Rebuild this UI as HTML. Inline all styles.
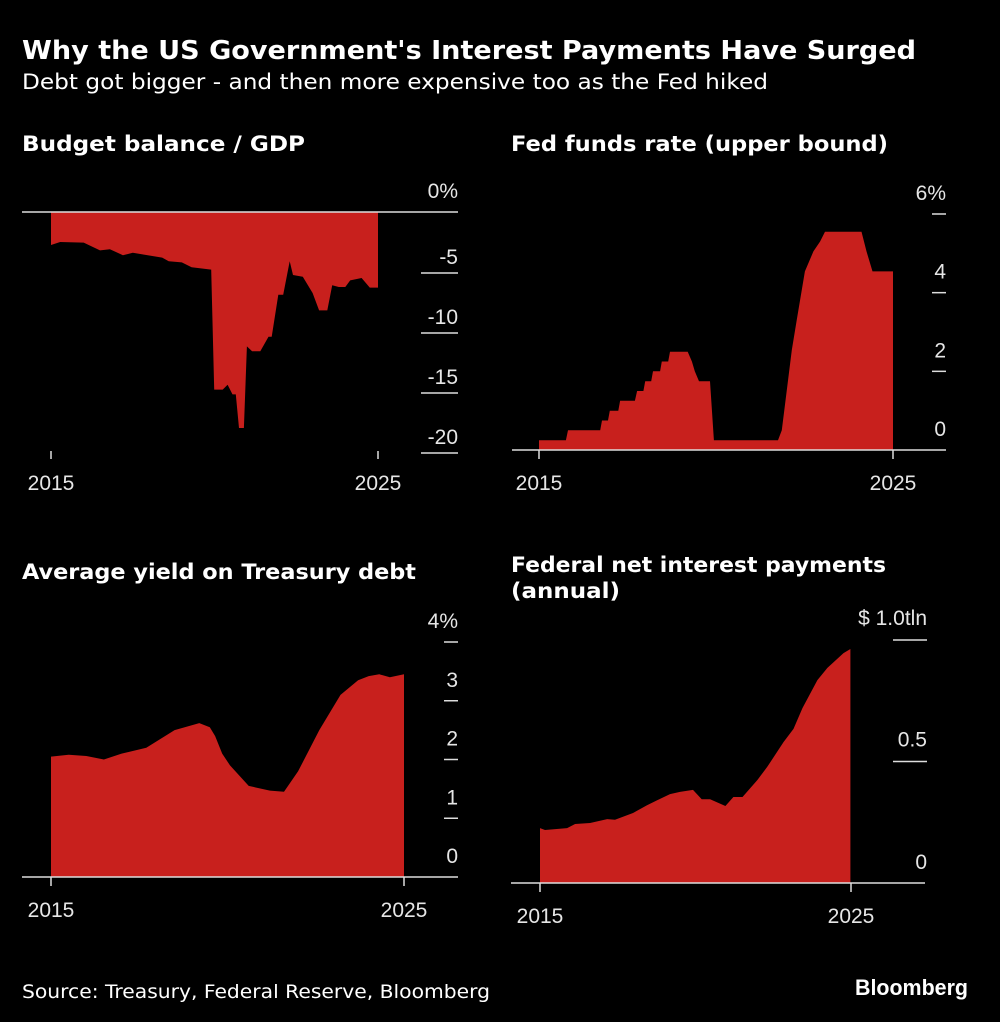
<!DOCTYPE html>
<html><head><meta charset="utf-8"><style>
html,body{margin:0;padding:0;background:#000;}
svg{display:block;}
.t{fill:#fff;font-family:"DejaVu Sans","Liberation Sans",sans-serif;}
.tk{fill:#e6e6e6;font-family:"Liberation Sans",sans-serif;font-size:21px;}
</style></head><body>
<svg id="c" width="1000" height="1022" viewBox="0 0 1000 1022">
<text class="t" x="22" y="59" font-size="26" font-weight="bold" textLength="894" lengthAdjust="spacingAndGlyphs">Why the US Government's Interest Payments Have Surged</text>
<text class="t" x="22" y="89" font-size="21" textLength="746" lengthAdjust="spacingAndGlyphs">Debt got bigger - and then more expensive too as the Fed hiked</text>
<text class="t" x="22" y="151" font-size="21" font-weight="bold" textLength="283" lengthAdjust="spacingAndGlyphs">Budget balance / GDP</text>
<text class="t" x="511" y="151" font-size="21" font-weight="bold" textLength="377" lengthAdjust="spacingAndGlyphs">Fed funds rate (upper bound)</text>
<text class="t" x="22" y="579" font-size="21" font-weight="bold" textLength="394" lengthAdjust="spacingAndGlyphs">Average yield on Treasury debt</text>
<text class="t" x="511" y="572" font-size="21" font-weight="bold" textLength="375" lengthAdjust="spacingAndGlyphs">Federal net interest payments</text>
<text class="t" x="511" y="598" font-size="21" font-weight="bold" textLength="109" lengthAdjust="spacingAndGlyphs">(annual)</text>
<text class="t" x="22" y="998" font-size="19" textLength="468" lengthAdjust="spacingAndGlyphs" fill="#ddd">Source: Treasury, Federal Reserve, Bloomberg</text>
<text x="855" y="995" font-family="Liberation Sans, sans-serif" font-size="22" font-weight="bold" fill="#fff" textLength="113" lengthAdjust="spacingAndGlyphs">Bloomberg</text>
</svg>
<script>
// Budget balance / GDP (%)
const budgetYears=[2015,2015.28,2016,2016.5,2016.8,2017.2,2017.5,2018.4,2018.6,2019,2019.3,2019.9,2019.99,2020.25,2020.4,2020.55,2020.65,2020.75,2020.9,2020.99,2021.15,2021.4,2021.65,2021.75,2021.95,2022.1,2022.3,2022.4,2022.7,2023.0,2023.2,2023.45,2023.6,2023.8,2024.0,2024.15,2024.5,2024.75,2025.0,2025.0];
const budgetVals=[-2.75,-2.5,-2.55,-3.2,-3.1,-3.6,-3.4,-3.8,-4.1,-4.2,-4.6,-4.8,-14.8,-14.8,-14.4,-15.2,-15.2,-18,-18,-11.2,-11.6,-11.6,-10.4,-10.4,-6.9,-6.9,-4.1,-5.25,-5.4,-6.75,-8.2,-8.2,-6.1,-6.25,-6.25,-5.7,-5.5,-6.3,-6.9,-7.0];
const budgetVals2End=[-6.3,-6.3];
const budgetTicks=[0,-5,-10,-15,-20];
const budgetTickLabels=["0%","-5","-10","-15","-20"];
// Fed funds rate upper bound (%)
const fedDates=[2015,2015.76,2015.82,2016.73,2016.78,2016.95,2017.0,2017.24,2017.29,2017.71,2017.77,2017.95,2018.0,2018.17,2018.22,2018.42,2018.47,2018.65,2018.7,2019.2,2019.32,2019.4,2019.52,2019.83,2019.94,2021.75,2021.86,2022.14,2022.28,2022.51,2022.75,2022.94,2023.08,2024.11,2024.25,2024.42,2025.0];
const fedVals=[0.25,0.25,0.5,0.5,0.75,0.75,1.0,1.0,1.25,1.25,1.5,1.5,1.75,1.75,2.0,2.0,2.25,2.25,2.5,2.5,2.25,2.0,1.75,1.75,0.25,0.25,0.5,2.54,3.3,4.54,5.05,5.3,5.55,5.55,5.05,4.54,4.54];
const fedTicks=[0,2,4,6];
const fedTickLabels=["0","2","4","6%"];
// Average yield on Treasury debt (%)
const yieldYears=[2015,2015.5,2016,2016.5,2017,2017.7,2018.5,2019.2,2019.5,2019.65,2019.85,2020.07,2020.6,2021.2,2021.6,2022,2022.6,2023.2,2023.7,2024,2024.3,2024.6,2025];
const yieldVals=[2.05,2.08,2.06,2.0,2.1,2.2,2.5,2.62,2.55,2.4,2.1,1.9,1.55,1.47,1.45,1.8,2.5,3.1,3.35,3.42,3.45,3.4,3.45];
const yieldTicks=[0,1,2,3,4];
const yieldTickLabels=["0","1","2","3","4%"];
// Federal net interest payments ($ tln)
const intYears=[2015,2015.16,2015.87,2016.13,2016.61,2017.16,2017.41,2017.99,2018.44,2018.76,2019.18,2019.5,2019.92,2020.2,2020.47,2020.96,2021.22,2021.51,2021.99,2022.31,2022.83,2023.15,2023.44,2023.92,2024.24,2024.76,2024.98];
const intVals=[0.226,0.218,0.226,0.243,0.247,0.263,0.26,0.288,0.32,0.34,0.366,0.375,0.383,0.345,0.345,0.317,0.354,0.354,0.424,0.478,0.58,0.634,0.72,0.835,0.885,0.946,0.963];
const intTicks=[0,0.5,1.0];
const intTickLabels=["0","0.5","$ 1.0tln"];

const NS="http://www.w3.org/2000/svg";
const svg=document.getElementById('c');
const RED="#c8201d";
function el(tag,attrs){const e=document.createElementNS(NS,tag);for(const k in attrs)e.setAttribute(k,attrs[k]);svg.appendChild(e);return e;}
function scale(d0,d1,r0,r1){return v=>r0+(v-d0)/(d1-d0)*(r1-r0);}

function areaPath(xs,ys,X,Y,base,step){
  let d="M"+X(xs[0]).toFixed(1)+","+Y(base).toFixed(1);
  for(let i=0;i<xs.length;i++){
    if(step&&i>0)d+="L"+X(xs[i]).toFixed(1)+","+Y(ys[i-1]).toFixed(1);
    d+="L"+X(xs[i]).toFixed(1)+","+Y(ys[i]).toFixed(1);
  }
  d+="L"+X(xs[xs.length-1]).toFixed(1)+","+Y(base).toFixed(1)+"Z";
  return d;
}

// ---- Panel 1: budget
{
  const X=scale(2015,2025,51,378), Y=scale(0,-20,212,452);
  const ys=budgetVals.slice(0,budgetVals.length-2).concat(budgetVals2End);
  const p=el('path',{d:areaPath(budgetYears,ys,X,Y,0,false),fill:RED});
  
  
  const z=el('line',{x1:22,x2:458,y1:Y(0),y2:Y(0),stroke:"#ddd","stroke-width":1.5});
  
  
  budgetTicks.forEach((v,i)=>{
    if(v!==0){const l=el('line',{x1:421,x2:458,y1:Y(v)+1,y2:Y(v)+1,stroke:"#ddd","stroke-width":1.5});
    
    }
    const t=el('text',{x:458,y:Y(v)-(v===0?14:8),"text-anchor":"end",class:"tk"});
    t.textContent=budgetTickLabels[i];
    
    
  });
  [2015,2025].forEach(yr=>{
    const l=el('line',{x1:X(yr),x2:X(yr),y1:451,y2:459,stroke:"#ddd","stroke-width":1.5});
    
    
    const t=el('text',{x:X(yr),y:490,"text-anchor":"middle",class:"tk"});t.textContent=yr;
    
    
  });
}
// ---- Panel 2: fed funds
{
  const X=scale(2015,2025,539,893), Y=scale(0,6,450,214);
  const p=el('path',{d:areaPath(fedDates,fedVals,X,Y,0,false),fill:RED});
  
  
  const a=el('line',{x1:512,x2:946,y1:450,y2:450,stroke:"#ddd","stroke-width":1.5});
  
  
  fedTicks.forEach((v,i)=>{
    if(v!==0){const l=el('line',{x1:932,x2:946,y1:Y(v),y2:Y(v),stroke:"#ddd","stroke-width":1.5});
    
    }
    const t=el('text',{x:946,y:Y(v)-14,"text-anchor":"end",class:"tk"});
    t.textContent=fedTickLabels[i];
    
    
  });
  [2015,2025].forEach(yr=>{
    const l=el('line',{x1:X(yr),x2:X(yr),y1:450,y2:459,stroke:"#ddd","stroke-width":1.5});
    
    
    const t=el('text',{x:X(yr),y:490,"text-anchor":"middle",class:"tk"});t.textContent=yr;
    
    
  });
}
// ---- Panel 3: yield
{
  const X=scale(2015,2025,51,404), Y=scale(0,4,877,642);
  const p=el('path',{d:areaPath(yieldYears,yieldVals,X,Y,0,false),fill:RED});
  
  
  const a=el('line',{x1:22,x2:458,y1:877,y2:877,stroke:"#ddd","stroke-width":1.5});
  
  
  yieldTicks.forEach((v,i)=>{
    if(v!==0){const l=el('line',{x1:444,x2:458,y1:Y(v),y2:Y(v),stroke:"#ddd","stroke-width":1.5});
    
    }
    const t=el('text',{x:458,y:Y(v)-14,"text-anchor":"end",class:"tk"});
    t.textContent=yieldTickLabels[i];
    
    
  });
  [2015,2025].forEach(yr=>{
    const l=el('line',{x1:X(yr),x2:X(yr),y1:877,y2:886,stroke:"#ddd","stroke-width":1.5});
    
    
    const t=el('text',{x:X(yr),y:917,"text-anchor":"middle",class:"tk"});t.textContent=yr;
    
    
  });
}
// ---- Panel 4: interest payments
{
  const X=scale(2015,2025,540,851), Y=scale(0,1,883,640);
  const p=el('path',{d:areaPath(intYears,intVals,X,Y,0,false),fill:RED});
  
  
  const a=el('line',{x1:511,x2:925,y1:883,y2:883,stroke:"#ddd","stroke-width":1.5});
  
  
  intTicks.forEach((v,i)=>{
    if(v!==0){const l=el('line',{x1:893,x2:927,y1:Y(v),y2:Y(v),stroke:"#ddd","stroke-width":1.5});
    
    }
    const t=el('text',{x:927,y:Y(v)-(v===0?14:15),"text-anchor":"end",class:"tk"});
    t.textContent=intTickLabels[i];
    
    
  });
  [2015,2025].forEach(yr=>{
    const l=el('line',{x1:X(yr),x2:X(yr),y1:883,y2:892,stroke:"#ddd","stroke-width":1.5});
    
    
    const t=el('text',{x:X(yr),y:923,"text-anchor":"middle",class:"tk"});t.textContent=yr;
    
    
  });
}
</script>
</body></html>
